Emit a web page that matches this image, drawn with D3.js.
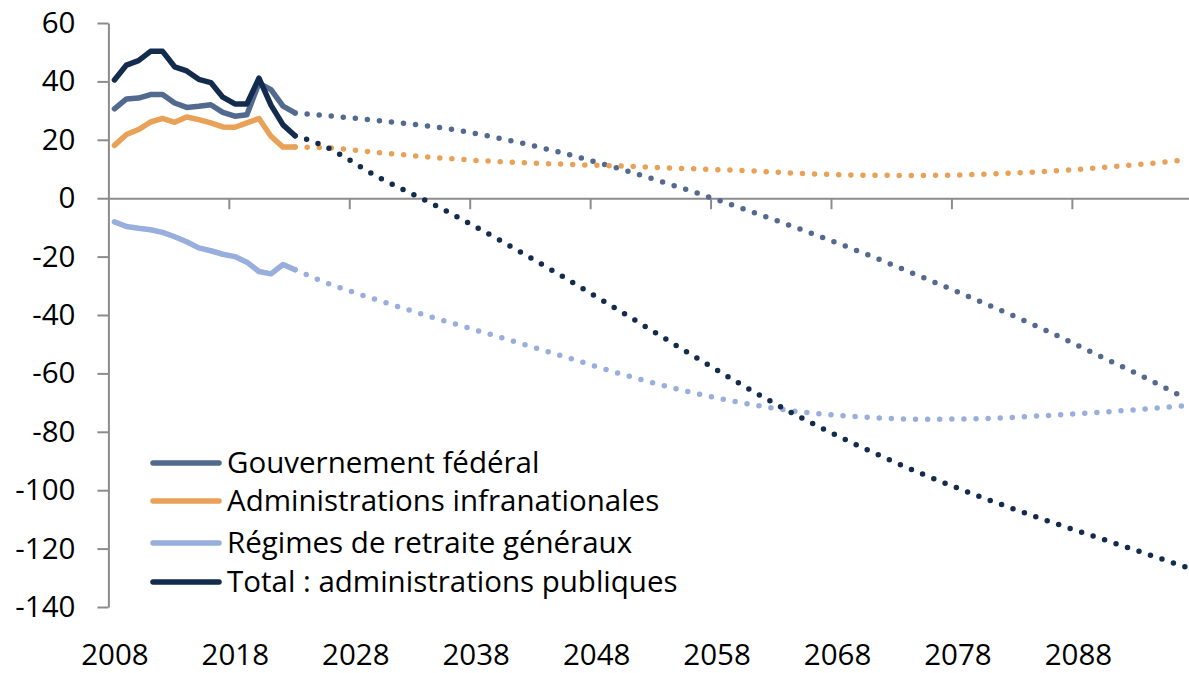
<!DOCTYPE html>
<html><head><meta charset="utf-8">
<script src="https://cdn.jsdelivr.net/npm/d3@7"></script>
<style>html,body{margin:0;padding:0;background:#fff;} svg{display:block;font-family:"Open Sans",sans-serif;}</style>
</head><body><svg id="c" width="1189" height="673"></svg>
<script>
// ---------- data ----------
const histYears = [2008,2009,2010,2011,2012,2013,2014,2015,2016,2017,2018,2019,2020,2021,2022,2023];
const federalHist  = [30.6,34.0,34.3,35.5,35.5,32.6,31.1,31.5,32.0,29.4,28.1,28.6,39.4,37.2,31.5,29.2];
const infraHist    = [18.1,21.8,23.5,26.1,27.3,26.0,27.8,26.9,25.8,24.4,24.3,25.8,27.3,21.2,17.5,17.5];
const retraiteHist = [-8.1,-9.7,-10.3,-10.8,-11.7,-13.2,-14.9,-17.0,-18.0,-19.2,-20.0,-21.9,-25.1,-25.9,-22.7,-24.5];
const totalHist    = [40.5,45.6,47.1,50.3,50.3,45.0,43.6,40.7,39.6,34.6,32.3,32.3,41.1,31.9,25.1,21.4];

const projYears = [2023,2025,2030,2035,2040,2045,2050,2055,2060,2065,2070,2075,2080,2085,2090,2095,2097];
const federalProj  = [29.2,28.5,26.5,24.2,20.5,15.7,10.0,3.6,-3.3,-10.7,-18.5,-26.9,-35.6,-44.6,-54.4,-64.4,-68.7];
const infraProj    = [17.5,17.4,15.6,13.8,12.5,11.7,11.0,10.2,9.5,8.5,7.9,7.8,8.2,9.1,10.5,12.3,13.1];
const retraiteProj = [-24.5,-28.0,-35.1,-41.5,-47.6,-53.8,-60.1,-65.6,-70.0,-73.2,-74.9,-75.7,-75.5,-74.5,-73.3,-71.7,-71.0];
const totalProj    = [21.4,18.6,7.0,-3.2,-14.4,-26.3,-38.7,-51.3,-63.7,-75.1,-85.2,-94.3,-102.4,-109.8,-116.7,-123.6,-126.4];

const seriesNames = ["Gouvernement fédéral","Administrations infranationales","Régimes de retraite généraux","Total : administrations publiques"];
const seriesColors = ["#536a8f","#e8a157","#98aedc","#132c4e"];

const yTicks = [60,40,20,0,-20,-40,-60,-80,-100,-120,-140];
const xLabelYears = [2008,2018,2028,2038,2048,2058,2068,2078,2088];
const xTickYears = [2017.5,2027.5,2037.5,2047.5,2057.5,2067.5,2077.5,2087.5];

// ---------- chart ----------
const svg = d3.select("#c");
const FONT = 29.5;
const x = d3.scaleLinear().domain([2007.5, 2097.5]).range([108.4, 1192.3]);
const y = d3.scaleLinear().domain([-140, 60]).range([607, 23]);

const axisColor = "#8c8c8c";
const fmt = d => String(d);

// y axis
const gy = svg.append("g").attr("transform", `translate(${x(2007.5)},0)`)
  .call(d3.axisLeft(y).tickValues(yTicks).tickFormat(fmt).tickSize(11).tickSizeOuter(0).tickPadding(22));
gy.select(".domain").attr("stroke", axisColor).attr("stroke-width", 2);
gy.selectAll(".tick line").attr("stroke", axisColor).attr("stroke-width", 2);
gy.selectAll(".tick text").attr("font-size", FONT).attr("fill", "#000").attr("font-family", '"Open Sans",sans-serif');

// x axis (at zero)
const gx = svg.append("g").attr("transform", `translate(0,${y(0)})`)
  .call(d3.axisBottom(x).tickValues(xTickYears).tickFormat("").tickSize(11).tickSizeOuter(0));
gx.select(".domain").attr("stroke", axisColor).attr("stroke-width", 2);
gx.selectAll(".tick line").attr("stroke", axisColor).attr("stroke-width", 2);

// x labels
const gl = svg.append("g").attr("transform", `translate(0,665)`)
  .call(d3.axisBottom(x).tickValues(xLabelYears).tickFormat(fmt).tickSize(0).tickPadding(0));
gl.select(".domain").remove();
gl.selectAll(".tick text").attr("dy", null).attr("y", 0).attr("font-size", FONT).attr("fill", "#000").attr("font-family", '"Open Sans",sans-serif');

// lines
const hist = [federalHist, infraHist, retraiteHist, totalHist];
const proj = [federalProj, infraProj, retraiteProj, totalProj];
const lineHist = d3.line().x((d,i)=>x(histYears[i])).y(d=>y(d));
const lineProj = d3.line().x((d,i)=>x(projYears[i])).y(d=>y(d)).curve(d3.curveMonotoneX);

hist.forEach((s, k) => {
  svg.append("path").datum(proj[k]).attr("d", lineProj)
    .attr("fill","none").attr("stroke", seriesColors[k]).attr("stroke-width", 5.5)
    .attr("stroke-linecap","round").attr("stroke-dasharray","0 12.1");
});
hist.forEach((s, k) => {
  svg.append("path").datum(s).attr("d", lineHist)
    .attr("fill","none").attr("stroke", seriesColors[k]).attr("stroke-width", 5.5)
    .attr("stroke-linejoin","round").attr("stroke-linecap","round");
});

// legend
const legY = [463, 501, 543, 582];
seriesNames.forEach((n, k) => {
  svg.append("line").attr("x1",153).attr("x2",219).attr("y1",legY[k]).attr("y2",legY[k])
    .attr("stroke", seriesColors[k]).attr("stroke-width", 5.5).attr("stroke-linecap","round");
  svg.append("text").attr("x",227).attr("y",legY[k]).attr("dy","0.35em")
    .attr("font-size", FONT).attr("fill","#000").text(n);
});
</script></body></html>
